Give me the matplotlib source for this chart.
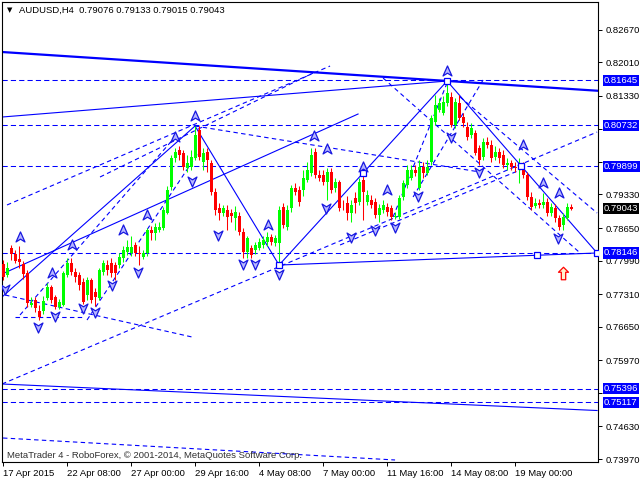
import matplotlib
matplotlib.use("Agg")
import matplotlib.pyplot as plt
from matplotlib.path import Path
from matplotlib.transforms import blended_transform_factory

plt.rcParams["font.family"] = ["Liberation Sans", "DejaVu Sans"]

# AUDUSD H4 candles, bar 0 = 17 Apr 2015 16:00
opens = [
    0.7792, 0.7770, 0.7825, 0.7812, 0.7802, 0.7792, 0.7774, 0.7709, 0.7719, 0.7697,
    0.7697, 0.7723, 0.7746, 0.7725, 0.7705, 0.7709, 0.7770, 0.7794, 0.7776, 0.7770,
    0.7756, 0.7729, 0.7760, 0.7735, 0.7723, 0.7776, 0.7790, 0.7794, 0.7790, 0.7790,
    0.7804, 0.7816, 0.7814, 0.7831, 0.7814, 0.7806, 0.7814, 0.7861, 0.7855, 0.7861,
    0.7865, 0.7896, 0.7948, 0.8007, 0.8023, 0.8017, 0.7987, 0.7989, 0.8007, 0.8064,
    0.7999, 0.8019, 0.7997, 0.7938, 0.7906, 0.7896, 0.7902, 0.7896, 0.7886, 0.7890,
    0.7857, 0.7816, 0.7825, 0.7821, 0.7825, 0.7831, 0.7837, 0.7847, 0.7835, 0.7835,
    0.7908, 0.7867, 0.7906, 0.7946, 0.7942, 0.7942, 0.7963, 0.7977, 0.8019, 0.7973,
    0.7973, 0.7959, 0.7979, 0.7946, 0.7959, 0.7908, 0.7916, 0.7896, 0.7926, 0.7918,
    0.7963, 0.7918, 0.7922, 0.7918, 0.7892, 0.7902, 0.7908, 0.7906, 0.7888, 0.7888,
    0.7928, 0.7952, 0.7967, 0.7983, 0.7946, 0.7989, 0.7977, 0.7999, 0.8080, 0.8104,
    0.8098, 0.8118, 0.8130, 0.8074, 0.8118, 0.8090, 0.8070, 0.8054, 0.8058, 0.8027,
    0.8009, 0.8039, 0.8033, 0.8009, 0.8019, 0.8013, 0.7993, 0.7997, 0.7989, 0.7987,
    0.7987, 0.7973, 0.7928, 0.7910, 0.7916, 0.7912, 0.7918, 0.7896, 0.7906, 0.7886,
    0.7871, 0.7886, 0.79076,
]
highs = [
    0.7800, 0.7796, 0.7831, 0.7821, 0.7829, 0.7798, 0.7780, 0.7725, 0.7725, 0.7709,
    0.7727, 0.7754, 0.7750, 0.7729, 0.7721, 0.7778, 0.7804, 0.7804, 0.7784, 0.7776,
    0.7764, 0.7766, 0.7764, 0.7744, 0.7784, 0.7800, 0.7800, 0.7804, 0.7796, 0.7814,
    0.7829, 0.7841, 0.7849, 0.7837, 0.7829, 0.7821, 0.7865, 0.7869, 0.7875, 0.7877,
    0.7908, 0.7950, 0.8013, 0.8027, 0.8031, 0.8023, 0.8013, 0.8023, 0.8072, 0.8072,
    0.8027, 0.8027, 0.8003, 0.7946, 0.7916, 0.7912, 0.7912, 0.7904, 0.7910, 0.7898,
    0.7865, 0.7849, 0.7831, 0.7837, 0.7845, 0.7849, 0.7857, 0.7853, 0.7851, 0.7910,
    0.7916, 0.7912, 0.7952, 0.7957, 0.7950, 0.7983, 0.7999, 0.8027, 0.8027, 0.7983,
    0.7983, 0.7987, 0.7987, 0.7967, 0.7963, 0.7922, 0.7930, 0.7922, 0.7938, 0.7967,
    0.7979, 0.7942, 0.7932, 0.7926, 0.7914, 0.7922, 0.7916, 0.7912, 0.7898, 0.7932,
    0.7963, 0.7993, 0.7993, 0.7993, 0.8003, 0.7999, 0.8003, 0.8094, 0.8134, 0.8128,
    0.8132, 0.8161, 0.8141, 0.8128, 0.8134, 0.8098, 0.8080, 0.8078, 0.8064, 0.8033,
    0.8047, 0.8049, 0.8043, 0.8031, 0.8027, 0.8023, 0.8007, 0.8003, 0.7999, 0.8007,
    0.7999, 0.7979, 0.7938, 0.7926, 0.7924, 0.7936, 0.7926, 0.7916, 0.7914, 0.7892,
    0.7896, 0.7916, 0.79133,
]
lows = [
    0.7760, 0.7766, 0.7800, 0.7794, 0.7784, 0.7762, 0.7705, 0.7705, 0.7695, 0.7679,
    0.7691, 0.7719, 0.7713, 0.7701, 0.7701, 0.7707, 0.7766, 0.7770, 0.7756, 0.7740,
    0.7711, 0.7719, 0.7713, 0.7707, 0.7719, 0.7770, 0.7770, 0.7766, 0.7760, 0.7784,
    0.7796, 0.7810, 0.7808, 0.7808, 0.7790, 0.7802, 0.7808, 0.7841, 0.7841, 0.7857,
    0.7861, 0.7894, 0.7942, 0.7999, 0.8003, 0.7983, 0.7979, 0.7983, 0.8003, 0.8003,
    0.7983, 0.7979, 0.7932, 0.7892, 0.7881, 0.7890, 0.7861, 0.7877, 0.7861, 0.7851,
    0.7804, 0.7804, 0.7804, 0.7812, 0.7821, 0.7825, 0.7829, 0.7831, 0.7829, 0.7794,
    0.7865, 0.7861, 0.7898, 0.7932, 0.7910, 0.7930, 0.7959, 0.7971, 0.7967, 0.7961,
    0.7952, 0.7922, 0.7936, 0.7938, 0.7900, 0.7902, 0.7881, 0.7877, 0.7896, 0.7912,
    0.7881, 0.7912, 0.7906, 0.7886, 0.7877, 0.7896, 0.7890, 0.7881, 0.7884, 0.7884,
    0.7922, 0.7946, 0.7963, 0.7971, 0.7942, 0.7967, 0.7973, 0.7993, 0.8074, 0.8100,
    0.8094, 0.8112, 0.8070, 0.8068, 0.8084, 0.8070, 0.8043, 0.8047, 0.8013, 0.7993,
    0.8003, 0.8027, 0.7999, 0.8003, 0.7997, 0.7987, 0.7983, 0.7983, 0.7979, 0.7957,
    0.7967, 0.7922, 0.7902, 0.7906, 0.7906, 0.7906, 0.7890, 0.7890, 0.7877, 0.7861,
    0.7861, 0.7881, 0.79015,
]
closes = [
    0.7766, 0.7784, 0.7812, 0.7798, 0.7796, 0.7772, 0.7713, 0.7713, 0.7703, 0.7685,
    0.7717, 0.7746, 0.7719, 0.7705, 0.7715, 0.7774, 0.7794, 0.7776, 0.7766, 0.7750,
    0.7715, 0.7760, 0.7719, 0.7725, 0.7780, 0.7794, 0.7780, 0.7774, 0.7774, 0.7806,
    0.7821, 0.7827, 0.7827, 0.7814, 0.7812, 0.7814, 0.7861, 0.7855, 0.7867, 0.7867,
    0.7902, 0.7942, 0.8007, 0.8019, 0.8013, 0.7989, 0.7997, 0.8009, 0.8054, 0.8009,
    0.8017, 0.8003, 0.7938, 0.7902, 0.7896, 0.7906, 0.7888, 0.7890, 0.7898, 0.7857,
    0.7816, 0.7845, 0.7810, 0.7831, 0.7837, 0.7841, 0.7847, 0.7837, 0.7845, 0.7902,
    0.7871, 0.7902, 0.7946, 0.7938, 0.7918, 0.7967, 0.7983, 0.8013, 0.7973, 0.7967,
    0.7959, 0.7979, 0.7942, 0.7959, 0.7906, 0.7907, 0.7896, 0.7912, 0.7916, 0.7959,
    0.7938, 0.7932, 0.7912, 0.7892, 0.7906, 0.7912, 0.7898, 0.7888, 0.7890, 0.7926,
    0.7957, 0.7983, 0.7983, 0.7977, 0.7989, 0.7977, 0.7989, 0.8088, 0.8114, 0.8118,
    0.8120, 0.8138, 0.8074, 0.8120, 0.8088, 0.8078, 0.8049, 0.8068, 0.8017, 0.8003,
    0.8039, 0.8033, 0.8007, 0.8019, 0.8007, 0.7993, 0.7997, 0.7989, 0.7987, 0.7993,
    0.7973, 0.7928, 0.7908, 0.7916, 0.7912, 0.7918, 0.7896, 0.7908, 0.7886, 0.7867,
    0.7888, 0.7908, 0.79043,
]

date_ticks = [0, 16, 32, 48, 64, 80, 96, 112, 128]
date_labels = ["17 Apr 2015", "22 Apr 08:00", "27 Apr 00:00", "29 Apr 16:00",
               "4 May 08:00", "7 May 00:00", "11 May 16:00", "14 May 08:00",
               "19 May 00:00"]
price_ticks = [0.8267, 0.8201, 0.8133, 0.8065, 0.7999, 0.7933, 0.7865,
               0.7799, 0.7731, 0.7665, 0.7597, 0.7531, 0.7463, 0.7397]
# these scale values sit under the level boxes, so their text is hidden
hidden_ticks = [0.8065, 0.7999, 0.7531]

level_prices = [0.81645, 0.80732, 0.79899, 0.78146, 0.75396, 0.75117]
last_price = 0.79043

# drawn objects (bar index, price)
thick_line = ([-0.25, 148.5], [0.82215, 0.81431])
solid_lines = [
    ([-0.25, 111], [0.80898, 0.81627]),
    ([-0.25, 88.75], [0.77718, 0.80959]),
    ([-0.25, 48, 69, 111, 148.5], [0.77252, 0.80716, 0.77900, 0.81627, 0.78144]),
    ([69, 148.5], [0.77900, 0.78144]),
    ([-0.25, 148.5], [0.75490, 0.74953]),
]
dashed_lines = [
    ([-0.25, 148.5], [0.75490, 0.80594]),
    ([1, 81.75], [0.79116, 0.81931]),
    ([0.5, 47.25], [0.77293, 0.76442]),
    ([4.25, 43], [0.76888, 0.80493]),
    ([21, 49.25], [0.76786, 0.80230]),
    ([48, 119.25], [0.80716, 0.79784]),
    ([95, 144.25], [0.81688, 0.78144]),
    ([114.25, 148.5], [0.81303, 0.78954]),
    ([0, 98], [0.74396, 0.73951]),
    ([97.5, 111], [0.78873, 0.81587]),
    ([102.5, 120], [0.79278, 0.81648]),
    ([84.25, 129.25], [0.78306, 0.79825]),
    ([24.25, 77.5], [0.79683, 0.81789]),
    ([3, 20.5], [0.76847, 0.76847]),
]
square_x = [69, 90, 111, 129.5, 133.5, 148.5]
square_y = [0.77900, 0.79764, 0.81627, 0.79906, 0.78103, 0.78144]

up_x = [4.25, 17.25, 12.25, 30, 36, 43, 48, 66.25, 77.75, 81, 90, 96, 111, 130, 135, 139]
up_y = [0.7847, 0.7831, 0.7774, 0.7861, 0.7892, 0.8049, 0.8092, 0.7871, 0.8052,
        0.8025, 0.7989, 0.7942, 0.8183, 0.8033, 0.7957, 0.7936]
down_x = [0.5, 8.75, 13, 20, 23, 27.25, 33.75, 47.25, 53.75, 60, 63, 69, 80.75,
          87, 93, 98, 103.75, 112, 119, 138.75]
down_y = [0.7742, 0.7664, 0.7687, 0.7703, 0.7695, 0.7750, 0.7776, 0.7961, 0.7851,
          0.7792, 0.7792, 0.7772, 0.7906, 0.7847, 0.7861, 0.7867, 0.7930, 0.8049,
          0.7979, 0.7845]
signal_x = [140]
signal_y = [0.77738]

BLUE = "#0000ff"
GREEN = "#00ff00"
RED = "#ff0000"

up_marker = Path([(0, 1), (0.8, -0.8), (0, -0.3), (-0.8, -0.8), (0, 1)],
                 [Path.MOVETO, Path.LINETO, Path.LINETO, Path.LINETO, Path.CLOSEPOLY])
down_marker = Path([(0, -1), (0.8, 0.8), (0, 0.3), (-0.8, 0.8), (0, -1)],
                   [Path.MOVETO, Path.LINETO, Path.LINETO, Path.LINETO, Path.CLOSEPOLY])
block_up = Path([(0, 1), (0.8, 0.2), (0.35, 0.2), (0.35, -1), (-0.35, -1),
                 (-0.35, 0.2), (-0.8, 0.2), (0, 1)],
                [Path.MOVETO] + [Path.LINETO] * 6 + [Path.CLOSEPOLY])

fig = plt.figure(figsize=(6.4, 4.8), dpi=100)
ax = fig.add_axes([2 / 640, 18 / 480, 595.5 / 640, 460 / 480])
ax.set_xlim(-0.25, 148.6)
ax.set_ylim(0.7391, 0.83228)

# candles
for i, (o, h, l, c) in enumerate(zip(opens, highs, lows, closes)):
    col = GREEN if c > o else RED
    ax.vlines(i, l, h, color=col, linewidth=0.75, zorder=3)
    ax.bar(i, max(abs(c - o), 0.00004), bottom=min(o, c), width=0.75,
           color=col, linewidth=0, zorder=3)

# levels and trend lines
for lv in level_prices:
    ax.axhline(lv, color=BLUE, linewidth=0.75, linestyle=(0, (5, 3)), zorder=2)
ax.plot(*thick_line, color=BLUE, linewidth=1.6, zorder=2)
for xs, ys in solid_lines:
    ax.plot(xs, ys, color=BLUE, linewidth=0.8, zorder=2)
for xs, ys in dashed_lines:
    ax.plot(xs, ys, color=BLUE, linewidth=0.8, linestyle=(0, (4, 3)), zorder=2)
ax.plot(square_x, square_y, linestyle="none", marker="s", markersize=4.5,
        markerfacecolor="white", markeredgecolor=BLUE, markeredgewidth=0.9, zorder=4)

ax.plot(up_x, up_y, linestyle="none", marker=up_marker, markersize=8,
        markerfacecolor="#b8b8ff", markeredgecolor="#1818e0", markeredgewidth=0.9, zorder=5)
ax.plot(down_x, down_y, linestyle="none", marker=down_marker, markersize=8,
        markerfacecolor="#b8b8ff", markeredgecolor="#1818e0", markeredgewidth=0.9, zorder=5)
ax.plot(signal_x, signal_y, linestyle="none", marker=block_up, markersize=9,
        markerfacecolor="#fff2d0", markeredgecolor=RED, markeredgewidth=0.9, zorder=5)

# axes styling
for sp in ax.spines.values():
    sp.set_color("black")
    sp.set_linewidth(0.8)
ax.yaxis.tick_right()
ax.set_yticks(price_ticks)
ax.set_yticklabels(["" if p in hidden_ticks else f"{p:.5f}" for p in price_ticks])
ax.set_xticks(date_ticks)
ax.set_xticklabels(date_labels, ha="left")
ax.tick_params(axis="y", direction="out", length=3, width=0.7, pad=2.5,
               labelsize=6.8, colors="black")
ax.tick_params(axis="x", direction="out", length=3, width=0.7, pad=2,
               labelsize=6.8, colors="black")

# price boxes on the right scale
trans = blended_transform_factory(ax.transAxes, ax.transData)
for lv in level_prices:
    ax.text(1.0105, lv, f"{lv:.5f}", transform=trans, ha="left", va="center",
            fontsize=6.8, color="white", zorder=10,
            bbox=dict(boxstyle="square,pad=0.12", fc=BLUE, ec="none"))
ax.text(1.0105, last_price, f"{last_price:.5f}", transform=trans, ha="left",
        va="center", fontsize=6.8, color="white", zorder=10,
        bbox=dict(boxstyle="square,pad=0.12", fc="black", ec="none"))

fig.text(7 / 640, 1 - 10.5 / 480, "\u25bc", fontsize=5, va="center", ha="left",
         family="DejaVu Sans")
fig.text(19 / 640, 1 - 10.5 / 480,
         "AUDUSD,H4  0.79076 0.79133 0.79015 0.79043",
         fontsize=6.8, va="center", ha="left")
fig.text(7 / 640, 1 - 455 / 480,
         "MetaTrader 4 - RoboForex, \u00a9 2001-2014, MetaQuotes Software Corp.",
         fontsize=6.8, va="center", ha="left", color="#303030")

fig.savefig("out.png", dpi=100)
